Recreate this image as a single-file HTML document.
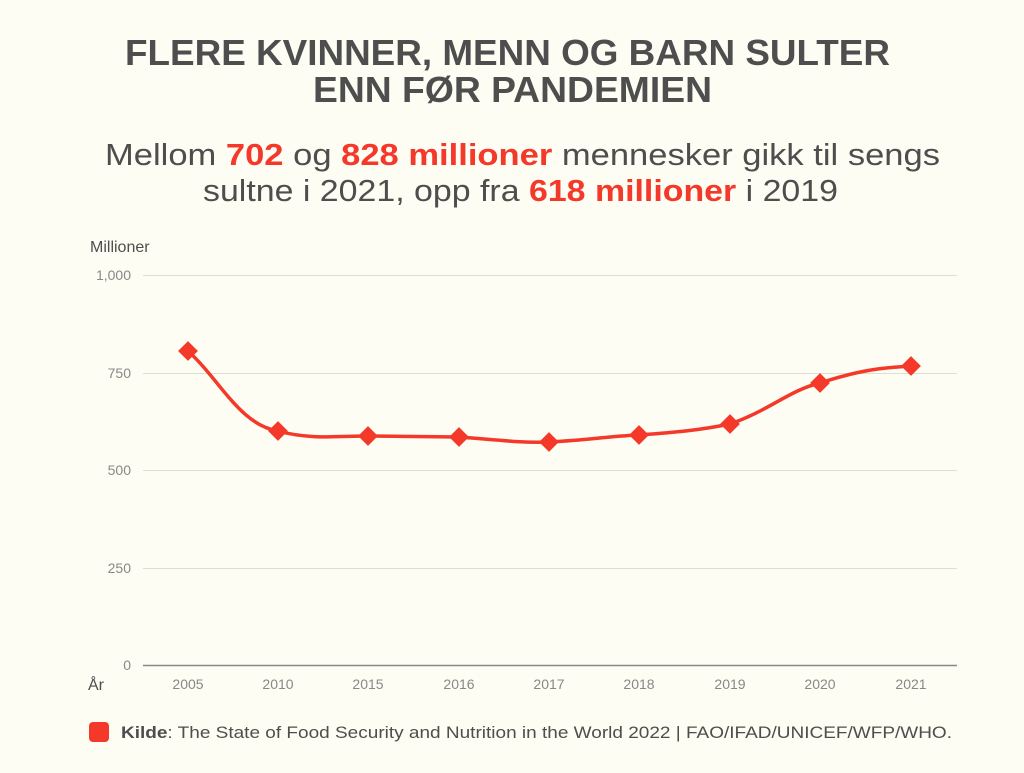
<!DOCTYPE html>
<html><head><meta charset="utf-8"><style>
body{margin:0;width:1024px;height:768px;background:#fdfdf3;overflow:hidden;font-family:"Liberation Sans",sans-serif}
</style></head><body>
<svg width="1024" height="768" xmlns="http://www.w3.org/2000/svg" font-family="Liberation Sans, sans-serif">
<rect width="1024" height="768" fill="#fdfdf3"/>
<g font-weight="bold" font-size="36" fill="#4e4e4e">
<text x="125" y="65" textLength="765" lengthAdjust="spacingAndGlyphs">FLERE KVINNER, MENN OG BARN SULTER</text>
<text x="313" y="102" textLength="399" lengthAdjust="spacingAndGlyphs">ENN FØR PANDEMIEN</text>
</g>
<g font-size="31" fill="#4e4e4e">
<text x="105" y="165" textLength="835" lengthAdjust="spacingAndGlyphs">Mellom <tspan fill="#f4382a" font-weight="bold">702</tspan> og <tspan fill="#f4382a" font-weight="bold">828 millioner</tspan> mennesker gikk til sengs</text>
<text x="203" y="201" textLength="635" lengthAdjust="spacingAndGlyphs">sultne i 2021, opp fra <tspan fill="#f4382a" font-weight="bold">618 millioner</tspan> i 2019</text>
</g>
<text x="90" y="252" font-size="16" fill="#4e4e4e">Millioner</text>
<g stroke="#deded6" stroke-width="1">
<line x1="143" x2="957" y1="275.5" y2="275.5"/>
<line x1="143" x2="957" y1="373.5" y2="373.5"/>
<line x1="143" x2="957" y1="470.5" y2="470.5"/>
<line x1="143" x2="957" y1="568.5" y2="568.5"/>
</g>
<line x1="143" x2="957" y1="665.5" y2="665.5" stroke="#888" stroke-width="1.5"/>
<g font-size="14" fill="#888" text-anchor="end">
<text x="131" y="280">1,000</text>
<text x="131" y="378">750</text>
<text x="131" y="475">500</text>
<text x="131" y="573">250</text>
<text x="131" y="670">0</text>
</g>
<text x="88" y="690" font-size="16" fill="#4e4e4e">År</text>
<g font-size="14" fill="#888" text-anchor="middle">
<text x="188" y="689">2005</text><text x="278" y="689">2010</text><text x="368" y="689">2015</text>
<text x="459" y="689">2016</text><text x="549" y="689">2017</text><text x="639" y="689">2018</text>
<text x="730" y="689">2019</text><text x="820" y="689">2020</text><text x="911" y="689">2021</text>
</g>
<path d="M188,351 C220,380 240,425 278,431 C310,440 340,436 368,436 L459,437 C500,440 520,443 549,442 C590,440 610,436 639,435 C680,432 700,430 730,424 C770,410 790,390 820,383 C860,370 880,368 911,366" fill="none" stroke="#f4382a" stroke-width="3.5"/>
<g fill="#f4382a">
<rect x="181" y="344" width="14" height="14" transform="rotate(45 188 351)"/>
<rect x="271" y="424" width="14" height="14" transform="rotate(45 278 431)"/>
<rect x="361" y="429" width="14" height="14" transform="rotate(45 368 436)"/>
<rect x="452" y="430" width="14" height="14" transform="rotate(45 459 437)"/>
<rect x="542" y="435" width="14" height="14" transform="rotate(45 549 442)"/>
<rect x="632" y="428" width="14" height="14" transform="rotate(45 639 435)"/>
<rect x="723" y="417" width="14" height="14" transform="rotate(45 730 424)"/>
<rect x="813" y="376" width="14" height="14" transform="rotate(45 820 383)"/>
<rect x="904" y="359" width="14" height="14" transform="rotate(45 911 366)"/>
</g>
<rect x="89" y="722" width="20" height="20" rx="4" fill="#f4382a"/>
<text x="121" y="738" font-size="17" fill="#4e4e4e" textLength="831" lengthAdjust="spacingAndGlyphs"><tspan font-weight="bold">Kilde</tspan>: The State of Food Security and Nutrition in the World 2022 | FAO/IFAD/UNICEF/WFP/WHO.</text>
</svg>
</body></html>
